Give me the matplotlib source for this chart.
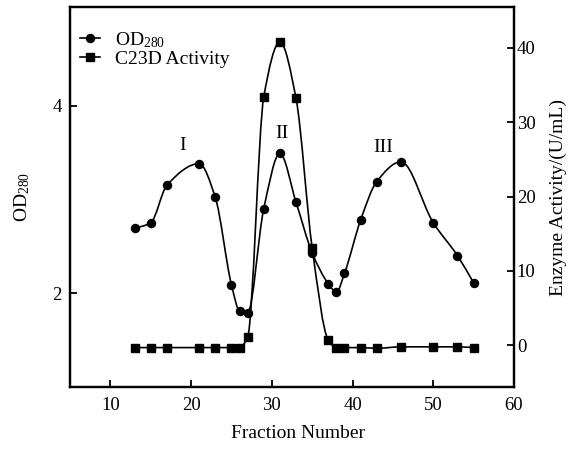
import numpy as np
import matplotlib
matplotlib.use("Agg")
import matplotlib.pyplot as plt
from matplotlib.path import Path
from matplotlib.patches import PathPatch
from matplotlib.lines import Line2D

plt.rcParams['font.family'] = ['Liberation Serif', 'DejaVu Serif']
plt.rcParams['mathtext.fontset'] = 'custom'
plt.rcParams['mathtext.rm'] = 'Liberation Serif'
plt.rcParams['mathtext.it'] = 'Liberation Serif:italic'

# ---- data ----
od_fraction = [13, 15, 17, 21, 23, 25, 26, 27, 29, 31, 33, 35, 37, 38, 39, 41, 43, 46, 50, 53, 55]
od_values = [2.69, 2.75, 3.15, 3.38, 3.02, 2.09, 1.81, 1.79, 2.90, 3.49, 2.97, 2.43,
             2.10, 2.01, 2.21, 2.78, 3.19, 3.40, 2.75, 2.40, 2.11]

enz_fraction = [13, 15, 17, 21, 23, 25, 26, 27, 29, 31, 33, 35, 37, 38, 39, 41, 43, 46, 50, 53, 55]
enz_values = [-0.3, -0.3, -0.3, -0.3, -0.3, -0.3, -0.3, 1.1, 33.4, 40.8, 33.2, 13.1,
              0.7, -0.3, -0.3, -0.3, -0.4, -0.2, -0.2, -0.2, -0.3]

peak_labels = ["I", "II", "III"]
peak_x = [19.0, 31.3, 43.8]
peak_y = [3.57, 3.70, 3.55]

x_ticks = [10, 20, 30, 40, 50, 60]
left_ticks = [2, 4]
right_ticks = [0, 10, 20, 30, 40]


def smooth_path(xs, ys):
    """Monotone (Fritsch-Carlson) cubic through the points, as Bezier segments."""
    x = np.asarray(xs, float)
    y = np.asarray(ys, float)
    n = len(x)
    h = np.diff(x)
    d = np.diff(y) / h
    m = np.zeros(n)
    m[0], m[-1] = d[0], d[-1]
    for k in range(1, n - 1):
        if d[k - 1] * d[k] > 0:
            w1 = 2 * h[k] + h[k - 1]
            w2 = h[k] + 2 * h[k - 1]
            m[k] = (w1 + w2) / (w1 / d[k - 1] + w2 / d[k])
        else:
            m[k] = 0.0
    verts = [(x[0], y[0])]
    codes = [Path.MOVETO]
    for k in range(n - 1):
        hk = h[k]
        verts += [(x[k] + hk / 3, y[k] + m[k] * hk / 3),
                  (x[k + 1] - hk / 3, y[k + 1] - m[k + 1] * hk / 3),
                  (x[k + 1], y[k + 1])]
        codes += [Path.CURVE4] * 3
    return Path(verts, codes)


fig = plt.figure(figsize=(5.79, 4.49), dpi=100)
ax = fig.add_axes([70 / 579, 1 - 387 / 449, (514 - 70) / 579, (387 - 7) / 449])
ax2 = ax.twinx()

lw = 1.2
ms = 5.8
ax.add_patch(PathPatch(smooth_path(od_fraction, od_values), facecolor='none',
                       edgecolor='black', lw=lw))
ax.plot(od_fraction, od_values, linestyle='none', marker='o', color='black', markersize=ms)

ax2.add_patch(PathPatch(smooth_path(enz_fraction, enz_values), facecolor='none',
                        edgecolor='black', lw=lw))
ax2.plot(enz_fraction, enz_values, linestyle='none', marker='s', color='black', markersize=ms)

ax.set_xlim(5, 60)
ax.set_ylim(1, 5.05)
ax2.set_ylim(-5.6, 45.5)

ax.set_xticks(x_ticks)
ax.set_yticks(left_ticks)
ax2.set_yticks(right_ticks)

for a in (ax, ax2):
    for s in a.spines.values():
        s.set_linewidth(1.6)
ax.tick_params(axis='both', direction='in', length=5, width=1.3, labelsize=13.5, pad=6)
ax.tick_params(axis='x', pad=7)
ax2.tick_params(axis='y', direction='in', length=5, width=1.3, labelsize=13.5, pad=2)

ax.set_xlabel('Fraction Number', fontsize=14)
ax.xaxis.set_label_coords(0.513, -0.1)
ax.set_ylabel('OD$_{280}$', fontsize=14)
ax.yaxis.set_label_coords(-0.086, 0.5)
ax2.set_ylabel('Enzyme Activity/(U/mL)', fontsize=14)
ax2.yaxis.set_label_coords(1.081, 0.5)

for lab, xx, yy in zip(peak_labels, peak_x, peak_y):
    ax.text(xx, yy, lab, fontsize=14, ha='center', va='center')

handles = [Line2D([], [], color='black', marker='o', markersize=ms, lw=lw),
           Line2D([], [], color='black', marker='s', markersize=ms, lw=lw)]
ax.legend(handles, ['OD$_{280}$', 'C23D Activity'], loc='upper left', frameon=False,
          fontsize=14, handlelength=1.05, handletextpad=0.75, labelspacing=0.05,
          bbox_to_anchor=(0.0225, 0.94), borderaxespad=0, borderpad=0)

fig.savefig('out.png', dpi=100)
